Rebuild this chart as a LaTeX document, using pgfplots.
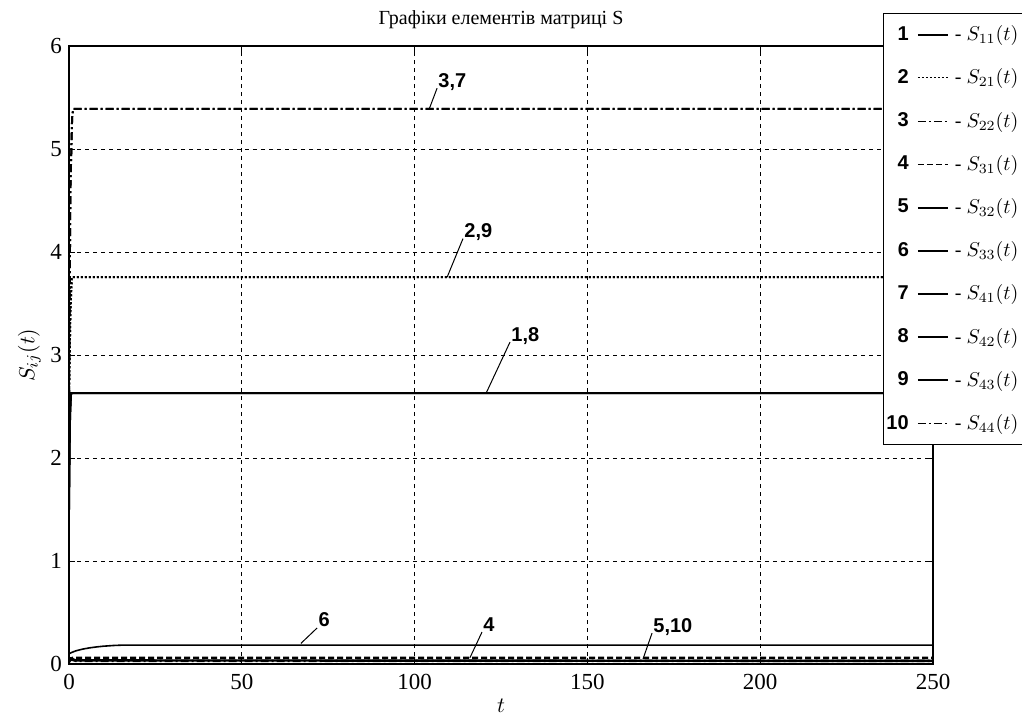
\documentclass[border=0pt]{standalone}
\usepackage{pgfplots}
\pgfplotsset{compat=1.18}
\usepackage{fontspec}
\setmainfont{Liberation Serif}
\newfontfamily\arial{Liberation Sans}
\tikzset{
  dashdot/.style={dash pattern=on 4pt off 1.5pt on 1pt off 1.5pt},
  mydot/.style={dash pattern=on 1pt off 1pt},
  mydash/.style={dash pattern=on 3pt off 1.5pt},
  lbl/.style={anchor=base west, inner sep=0.5pt, yshift=0.5pt, font=\arial\bfseries\fontsize{10}{12}\selectfont},
}
\pgfplotsset{
  leg/.style 2 args={legend image code/.code={
    \node[anchor=east,inner sep=0pt,font=\arial\bfseries\fontsize{10}{12}\selectfont] at (-4pt,0pt) {#1};
    \draw[black,#2] (0pt,0pt) -- (15pt,0pt);}},
}
\begin{document}
\begin{tikzpicture}
\path[use as bounding box] (-34.5pt,-27.5pt) rectangle (476.5pt,332pt);
\begin{axis}[
  at={(0pt,0pt)}, anchor=south west,
  scale only axis, width=432pt, height=309pt,
  xmin=0, xmax=250, ymin=0, ymax=6,
  xtick={0,50,...,250}, ytick={0,1,...,6},
  tick align=inside, major tick length=3pt,
  tick style={black, line width=0.5pt},
  grid=major,
  major grid style={black, line width=0.4pt, dash pattern=on 2pt off 2pt},
  axis line style={black, line width=0.6pt},
  /pgf/number format/assume math mode=true,
  ticklabel style={font=\fontsize{11.5}{13}\selectfont},
  xticklabel style={yshift=-1.5pt},
  title={Графіки елементів матриці S},
  title style={font=\fontsize{10}{12}\selectfont, yshift=-1pt},
  xlabel={$t$}, ylabel={$S_{ij}(t)$},
  xlabel style={yshift=2pt},
  ylabel style={yshift=-2pt},
  label style={font=\fontsize{11}{13}\selectfont},
  legend cell align=left,
  legend style={at={(0.942,1.053)}, anchor=north west, draw=black, line width=0.5pt,
    fill=white, row sep=10.6pt, column sep=2pt, inner xsep=1.5pt, inner ysep=5pt,
    nodes={inner sep=1pt, font=\fontsize{10}{12}\selectfont}},
]
% 1: S11
\addplot[black, line width=1pt, leg={1}{solid, line width=1pt}]
  coordinates {(0,1.5) (0.3,2.4) (0.6,2.63) (250,2.63)};
\addlegendentry{- $S_{11}(t)$}
% 2: S21
\addplot[black, line width=1pt, mydot, leg={2}{line width=0.5pt, mydot}]
  coordinates {(0,2.6) (0.4,3.4) (0.8,3.755) (250,3.755)};
\addlegendentry{- $S_{21}(t)$}
% 3: S22
\addplot[black, line width=1pt, dashdot, leg={3}{line width=0.5pt, dashdot}]
  coordinates {(0,2.6) (0.4,4.6) (0.9,5.3) (1.2,5.39) (250,5.39)};
\addlegendentry{- $S_{22}(t)$}
% 4: S31
\addplot[black, line width=1.2pt, mydash, leg={4}{line width=0.5pt, mydash}]
  coordinates {(0,0.02) (1,0.06) (250,0.06)};
\addlegendentry{- $S_{31}(t)$}
% 5: S32
\addplot[black, line width=1.2pt, leg={5}{solid, line width=1pt}]
  coordinates {(0,0.06) (2,0.035) (250,0.03)};
\addlegendentry{- $S_{32}(t)$}
% 6: S33
\addplot[black, line width=0.8pt, leg={6}{solid, line width=1pt}]
  coordinates {(0,0.10) (1,0.115) (2,0.128) (4,0.145) (6,0.157) (8,0.166) (10,0.173) (13,0.180) (16,0.184) (20,0.184) (250,0.184)};
\addlegendentry{- $S_{33}(t)$}
% 7: S41
\addplot[black, line width=1pt, dashdot, leg={7}{solid, line width=1pt}]
  coordinates {(0,2.6) (0.4,4.6) (0.9,5.3) (1.2,5.39) (250,5.39)};
\addlegendentry{- $S_{41}(t)$}
% 8: S42
\addplot[black, line width=1pt, leg={8}{solid, line width=1pt}]
  coordinates {(0,1.5) (0.3,2.4) (0.6,2.63) (250,2.63)};
\addlegendentry{- $S_{42}(t)$}
% 9: S43
\addplot[black, line width=1pt, mydot, leg={9}{solid, line width=1pt}]
  coordinates {(0,2.6) (0.4,3.4) (0.8,3.755) (250,3.755)};
\addlegendentry{- $S_{43}(t)$}
% 10: S44
\addplot[black, line width=1.2pt, dashdot, leg={10}{line width=0.5pt, dashdot}]
  coordinates {(0,0.05) (2,0.03) (250,0.03)};
\addlegendentry{- $S_{44}(t)$}
% curve labels
\draw[black, line width=0.5pt] (axis cs:104.2,5.386) -- (axis cs:106.5,5.59);
\node[lbl] at (axis cs:106.5,5.59) {3,7};
\draw[black, line width=0.5pt] (axis cs:109.4,3.755) -- (axis cs:114.0,4.13);
\node[lbl] at (axis cs:114.0,4.13) {2,9};
\draw[black, line width=0.5pt] (axis cs:120.7,2.63) -- (axis cs:127.6,3.125);
\node[lbl] at (axis cs:127.6,3.125) {1,8};
\draw[black, line width=0.5pt] (axis cs:67.1,0.20) -- (axis cs:71.8,0.35);
\node[lbl] at (axis cs:71.8,0.35) {6};
\draw[black, line width=0.5pt] (axis cs:116.0,0.06) -- (axis cs:119.5,0.31);
\node[lbl] at (axis cs:119.5,0.31) {4};
\draw[black, line width=0.5pt] (axis cs:166.1,0.05) -- (axis cs:168.7,0.30);
\node[lbl] at (axis cs:168.7,0.30) {5,10};
\end{axis}
\end{tikzpicture}
\end{document}
